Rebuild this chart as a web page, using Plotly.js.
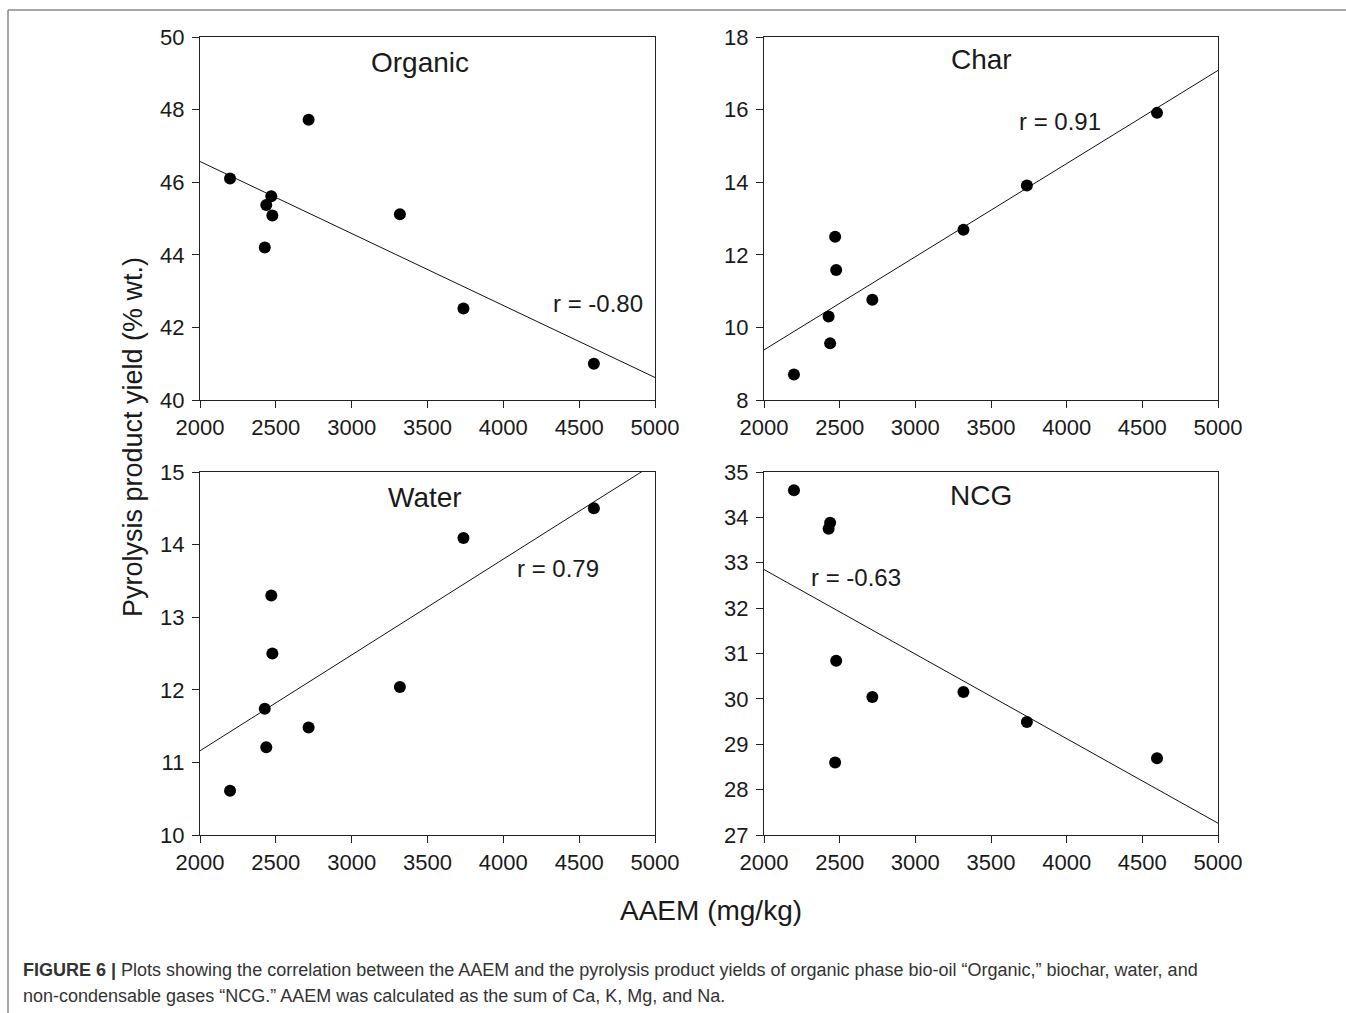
<!DOCTYPE html>
<html>
<head>
<meta charset="utf-8">
<script src="https://cdn.plot.ly/plotly-3.0.1.min.js"></script>
<style>
  html, body { margin: 0; padding: 0; background: #ffffff; }
  #chart { width: 1346px; height: 1013px; }
</style>
</head>
<body>
<div id="chart"></div>
<script>
// ---------- data ----------
const aaem    = [2198, 2427, 2437, 2470, 2477, 2716, 3318, 3737, 4597];
const organic = [46.10, 44.20, 45.37, 45.61, 45.08, 47.72, 45.12, 42.52, 41.00];
const char    = [8.70, 10.30, 9.56, 12.50, 11.58, 10.76, 12.69, 13.91, 15.91];
const water   = [10.61, 11.74, 11.21, 13.30, 12.50, 11.48, 12.04, 14.09, 14.50];
const ncg     = [34.60, 33.75, 33.88, 28.60, 30.84, 30.04, 30.15, 29.49, 28.69];

const fitX       = [2000, 5000];
const organicFit = [46.57, 40.62];
const charFit    = [9.38, 17.08];
const waterFit   = [11.16, 15.12];
const ncgFit     = [32.85, 27.26];

const panelNames = ["Organic", "Char", "Water", "NCG"];
const rLabels    = ["r = -0.80", "r = 0.91", "r = 0.79", "r = -0.63"];
const yRanges    = [[40, 50], [8, 18], [10, 15], [27, 35]];
const yDticks    = [2, 2, 1, 1];
const xTickVals  = [2000, 2500, 3000, 3500, 4000, 4500, 5000];

const yTitle = "Pyrolysis product yield (% wt.)";
const xTitle = "AAEM (mg/kg)";
const caption1 = "<b>FIGURE 6 |</b> Plots showing the correlation between the AAEM and the pyrolysis product yields of organic phase bio-oil \u201cOrganic,\u201d biochar, water, and";
const caption2 = "non-condensable gases \u201cNCG.\u201d AAEM was calculated as the sum of Ca, K, Mg, and Na.";

// ---------- layout helpers (pixel -> paper) ----------
const W = 1346, H = 1013;
const px = x => x / W;
const py = y => 1 - y / H;

const series = [organic, char, water, ncg];
const fits = [organicFit, charFit, waterFit, ncgFit];

const FONT = "Liberation Sans, Arial, sans-serif";
const INK = "#1a1a1a";

// plot-area boxes in pixels: [left, right, top, bottom]
const boxes = [
  [200, 655, 37, 400],
  [764, 1218, 37, 400],
  [200, 655, 472, 835],
  [764, 1218, 472, 835]
];

const traces = [];
const layout = {
  width: W, height: H,
  margin: {l: 0, r: 0, t: 0, b: 0},
  paper_bgcolor: "#ffffff",
  plot_bgcolor: "#ffffff",
  showlegend: false,
  font: {family: FONT, color: INK},
  annotations: [],
  shapes: []
};

for (let i = 0; i < 4; i++) {
  const n = i === 0 ? "" : String(i + 1);
  const xa = "x" + n, ya = "y" + n;
  traces.push({
    x: fitX, y: fits[i], xaxis: xa, yaxis: ya,
    type: "scatter", mode: "lines",
    line: {color: "#111111", width: 1},
    hoverinfo: "skip"
  });
  traces.push({
    x: aaem, y: series[i], xaxis: xa, yaxis: ya,
    type: "scatter", mode: "markers",
    marker: {color: "#000000", size: 12, line: {width: 0}},
    cliponaxis: false
  });
  const b = boxes[i];
  layout["xaxis" + n] = {
    domain: [px(b[0]), px(b[1])],
    anchor: ya,
    range: [2000, 5000],
    tickvals: xTickVals,
    ticktext: xTickVals.map(String),
    ticks: "outside", ticklen: 7, tickwidth: 1, tickcolor: "#222",
    showline: true, mirror: true, linecolor: "#222", linewidth: 1.2,
    showgrid: false, zeroline: false,
    tickfont: {family: FONT, size: 22, color: INK},
    fixedrange: true
  };
  layout["yaxis" + n] = {
    domain: [py(b[3]), py(b[2])],
    anchor: xa,
    range: yRanges[i],
    dtick: yDticks[i],
    ticks: "outside", ticklen: 7, tickwidth: 1, tickcolor: "#222",
    ticklabelstandoff: 3,
    showline: true, mirror: true, linecolor: "#222", linewidth: 1.2,
    showgrid: false, zeroline: false,
    tickfont: {family: FONT, size: 22, color: INK},
    fixedrange: true
  };
}

// panel titles and r labels (pixel positions)
const namePos = [[420, 63], [981, 60], [425, 497], [981, 495]];
const rPos    = [[598, 303], [1060, 121], [558, 568], [856, 577]];
for (let i = 0; i < 4; i++) {
  layout.annotations.push({
    xref: "paper", yref: "paper", x: px(namePos[i][0]), y: py(namePos[i][1]),
    xanchor: "center", yanchor: "middle", showarrow: false,
    text: panelNames[i], font: {family: FONT, size: 28, color: INK}
  });
  layout.annotations.push({
    xref: "paper", yref: "paper", x: px(rPos[i][0]), y: py(rPos[i][1]),
    xanchor: "center", yanchor: "middle", showarrow: false,
    text: rLabels[i], font: {family: FONT, size: 24, color: INK}
  });
}

// shared axis titles
layout.annotations.push({
  xref: "paper", yref: "paper", x: px(133), y: py(437),
  xanchor: "center", yanchor: "middle", showarrow: false, textangle: -90,
  text: yTitle, font: {family: FONT, size: 27, color: INK}
});
layout.annotations.push({
  xref: "paper", yref: "paper", x: px(711), y: py(910),
  xanchor: "center", yanchor: "middle", showarrow: false,
  text: xTitle, font: {family: FONT, size: 28, color: INK}
});

// caption
layout.annotations.push({
  xref: "paper", yref: "paper", x: px(21), y: py(970),
  xanchor: "left", yanchor: "middle", showarrow: false, align: "left",
  text: caption1, font: {family: FONT, size: 18, color: "#333333"}
});
layout.annotations.push({
  xref: "paper", yref: "paper", x: px(21), y: py(996),
  xanchor: "left", yanchor: "middle", showarrow: false, align: "left",
  text: caption2, font: {family: FONT, size: 18, color: "#333333"}
});

// figure frame (top and left rules)
layout.shapes.push({
  type: "line", xref: "paper", yref: "paper",
  x0: px(8), x1: 1, y0: py(10), y1: py(10),
  line: {color: "#8a8a8a", width: 1.5}
});
layout.shapes.push({
  type: "line", xref: "paper", yref: "paper",
  x0: px(8), x1: px(8), y0: 0, y1: py(10),
  line: {color: "#8a8a8a", width: 1.5}
});

Plotly.newPlot("chart", traces, layout, {displayModeBar: false, staticPlot: true});
</script>
</body>
</html>
